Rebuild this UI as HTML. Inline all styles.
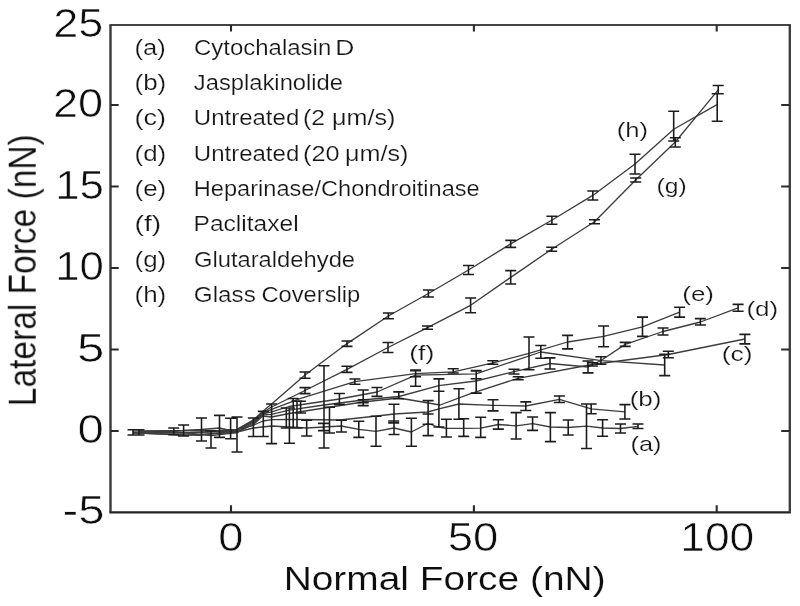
<!DOCTYPE html>
<html lang="en"><head><meta charset="utf-8"><title>Lateral Force vs Normal Force</title>
<style>
html,body{margin:0;padding:0;background:#fff;}
body{width:800px;height:606px;overflow:hidden;font-family:"Liberation Sans",Arial,sans-serif;}
svg{display:block;}
</style></head><body>
<svg width="800" height="606" viewBox="0 0 800 606">
<defs><filter id="bl" x="-2%" y="-2%" width="104%" height="104%"><feGaussianBlur stdDeviation="0.65"/></filter></defs>
<rect width="800" height="606" fill="#fff"/>
<g filter="url(#bl)">
<g fill="none" stroke="#3c3c3c" stroke-width="1.3" stroke-linejoin="round">
<polyline points="133.0,431.2 183.0,430.6 219.5,430.4 237.0,429.3 254.0,419.5 262.5,411.5 271.6,404.0 305.0,375.0 347.0,343.6 388.4,316.0 428.4,293.5 468.5,270.0 510.7,243.9 551.7,220.2 592.8,195.4 635.0,164.0 673.7,129.2 717.0,104.6"/>
<polyline points="139.0,431.2 201.5,430.3 219.5,430.6 237.0,429.8 254.0,420.0 262.5,412.5 271.6,407.0 305.0,390.5 347.0,369.3 388.0,347.5 427.5,327.6 470.6,305.3 510.7,277.4 551.7,249.2 594.5,221.8 635.7,180.0 675.3,142.0 718.2,89.8"/>
<polyline points="133.0,432.8 183.0,433.2 225.0,431.0 237.0,430.4 254.0,420.5 262.5,413.3 271.6,409.4 300.0,398.7 354.9,381.6 415.6,373.7 453.4,371.8 493.0,362.8 529.0,353.4 567.6,342.0 603.6,336.4 642.5,326.8 679.6,312.2"/>
<polyline points="139.0,432.8 190.0,432.5 230.0,431.3 237.0,430.8 254.0,421.5 262.5,414.0 271.6,411.9 289.0,406.5 339.4,399.0 377.0,392.0 415.6,375.2 476.0,373.8 540.8,352.0 601.2,360.6 664.7,365.0"/>
<polyline points="139.0,431.6 174.0,431.4 211.0,435.6 237.0,432.5 254.0,422.5 262.5,415.0 271.6,414.4 289.0,410.2 324.0,405.0 363.0,400.0 399.0,396.5 438.8,385.6 476.0,381.0 514.0,371.6 550.0,363.5 588.0,367.0 601.0,360.5 625.2,344.4 663.0,331.5 700.4,322.0 738.1,307.8"/>
<polyline points="133.0,432.8 183.5,435.2 237.0,432.5 254.0,424.0 262.5,416.2 271.6,417.0 289.0,413.5 363.0,402.0 399.0,398.0 440.0,405.0 470.0,393.8 518.0,378.3 592.0,364.5 668.3,354.5 744.9,339.0"/>
<polyline points="133.0,432.8 170.0,434.3 199.0,435.4 231.0,431.5 254.0,425.0 263.0,421.0 272.0,419.6 297.0,419.5 340.0,420.0 377.0,416.0 394.0,414.0 427.6,412.0 440.0,408.7 458.9,404.0 493.0,405.3 525.8,406.0 559.4,399.4 591.2,408.9 624.9,411.8"/>
<polyline points="183.8,430.5 201.5,429.5 219.5,428.0 237.0,432.0 253.4,428.0 271.6,426.0 289.7,427.0 306.7,428.0 324.0,427.0 341.4,426.0 358.8,429.3 376.0,431.3 394.0,428.0 411.4,432.0 427.6,423.5 438.5,427.0 446.4,428.4 463.7,428.4 480.7,428.2 498.3,424.5 516.1,425.8 532.6,423.7 550.4,427.0 568.2,427.5 586.5,426.2 602.6,428.0 620.5,428.5 638.0,426.3"/>
</g>
<path d="M133.0 429.8V435.0M127.5 429.8H138.5M127.5 435.0H138.5M139.0 429.8V435.0M133.5 429.8H144.5M133.5 435.0H144.5M173.8 428.0V434.8M168.2 428.0H179.2M168.2 434.8H179.2M183.6 425.0V436.0M178.1 425.0H189.1M178.1 436.0H189.1M201.5 418.0V441.0M196.0 418.0H207.0M196.0 441.0H207.0M211.0 431.0V448.0M205.5 431.0H216.5M205.5 448.0H216.5M219.5 415.4V437.4M214.0 415.4H225.0M214.0 437.4H225.0M230.6 418.3V438.7M225.1 418.3H236.1M225.1 438.7H236.1M237.0 417.0V452.0M231.5 417.0H242.5M231.5 452.0H242.5M253.4 418.0V436.5M247.9 418.0H258.9M247.9 436.5H258.9M263.3 411.4V436.5M257.8 411.4H268.8M257.8 436.5H268.8M271.6 404.0V443.6M266.1 404.0H277.1M266.1 443.6H277.1M289.4 408.0V443.2M283.9 408.0H294.9M283.9 443.2H294.9M286.3 408.0V428.0M280.8 408.0H291.8M280.8 428.0H291.8M293.2 398.5V428.0M287.7 398.5H298.7M287.7 428.0H298.7M297.0 401.0V428.0M291.5 401.0H302.5M291.5 428.0H302.5M300.6 401.2V413.0M295.1 401.2H306.1M295.1 413.0H306.1M306.7 420.2V436.0M301.2 420.2H312.2M301.2 436.0H312.2M324.0 365.7V448.0M318.5 365.7H329.5M318.5 448.0H329.5M329.5 407.3V433.0M324.0 407.3H335.0M324.0 433.0H335.0M341.4 420.2V432.0M335.9 420.2H346.9M335.9 432.0H346.9M358.8 421.2V437.4M353.3 421.2H364.3M353.3 437.4H364.3M376.0 416.2V446.3M370.5 416.2H381.5M370.5 446.3H381.5M394.0 404.2V434.5M388.5 404.2H399.5M388.5 434.5H399.5M411.4 418.2V446.3M405.9 418.2H416.9M405.9 446.3H416.9M428.1 400.6V435.6M422.6 400.6H433.6M422.6 435.6H433.6M428.1 414.0V424.3M422.6 414.0H433.6M422.6 424.3H433.6M438.9 378.8V427.0M433.4 378.8H444.4M433.4 427.0H444.4M438.9 379.0V391.3M433.4 379.0H444.4M433.4 391.3H444.4M446.4 419.2V437.0M440.9 419.2H451.9M440.9 437.0H451.9M463.7 418.8V436.4M458.2 418.8H469.2M458.2 436.4H469.2M480.7 417.2V437.4M475.2 417.2H486.2M475.2 437.4H486.2M498.3 419.8V429.1M492.8 419.8H503.8M492.8 429.1H503.8M516.1 412.6V439.0M510.6 412.6H521.6M510.6 439.0H521.6M532.6 417.0V430.4M527.1 417.0H538.1M527.1 430.4H538.1M550.4 412.6V441.6M544.9 412.6H555.9M544.9 441.6H555.9M568.2 420.0V435.0M562.7 420.0H573.7M562.7 435.0H573.7M586.5 404.0V448.5M581.0 404.0H592.0M581.0 448.5H592.0M602.6 419.7V436.2M597.1 419.7H608.1M597.1 436.2H608.1M620.5 424.0V433.0M615.0 424.0H626.0M615.0 433.0H626.0M638.0 424.0V428.5M632.5 424.0H643.5M632.5 428.5H643.5M458.9 388.7V419.2M453.4 388.7H464.4M453.4 419.2H464.4M493.0 399.8V410.9M487.5 399.8H498.5M487.5 410.9H498.5M525.8 401.9V410.5M520.3 401.9H531.3M520.3 410.5H531.3M559.4 396.0V402.5M553.9 396.0H564.9M553.9 402.5H564.9M591.2 404.0V413.7M585.7 404.0H596.7M585.7 413.7H596.7M624.9 404.6V419.0M619.4 404.6H630.4M619.4 419.0H630.4M339.4 393.5V404.4M333.9 393.5H344.9M333.9 404.4H344.9M363.2 390.0V405.6M357.7 390.0H368.7M357.7 405.6H368.7M363.2 399.8V402.6M357.7 399.8H368.7M357.7 402.6H368.7M393.8 421.0V422.9M388.2 421.0H399.2M388.2 422.9H399.2M323.5 423.4V430.6M318.0 423.4H329.0M318.0 430.6H329.0M377.0 387.5V396.4M371.5 387.5H382.5M371.5 396.4H382.5M398.8 391.9V398.8M393.2 391.9H404.2M393.2 398.8H404.2M354.9 379.0V384.2M349.4 379.0H360.4M349.4 384.2H360.4M415.6 370.0V386.2M410.1 370.0H421.1M410.1 386.2H421.1M415.6 370.8V376.8M410.1 370.8H421.1M410.1 376.8H421.1M453.2 368.8V373.0M447.7 368.8H458.7M447.7 373.0H458.7M476.2 370.6V393.1M470.7 370.6H481.7M470.7 393.1H481.7M476.2 371.0V378.7M470.7 371.0H481.7M470.7 378.7H481.7M492.8 360.8V364.2M487.3 360.8H498.3M487.3 364.2H498.3M514.0 369.3V374.0M508.5 369.3H519.5M508.5 374.0H519.5M518.2 376.8V379.8M512.7 376.8H523.7M512.7 379.8H523.7M529.0 337.0V369.7M523.5 337.0H534.5M523.5 369.7H534.5M540.8 345.5V358.3M535.3 345.5H546.3M535.3 358.3H546.3M550.0 357.9V369.0M544.5 357.9H555.5M544.5 369.0H555.5M567.6 335.4V348.9M562.1 335.4H573.1M562.1 348.9H573.1M588.0 361.0V372.9M582.5 361.0H593.5M582.5 372.9H593.5M592.3 362.8V366.0M586.8 362.8H597.8M586.8 366.0H597.8M600.9 356.8V364.3M595.4 356.8H606.4M595.4 364.3H606.4M603.6 326.0V346.8M598.1 326.0H609.1M598.1 346.8H609.1M625.2 342.4V346.4M619.7 342.4H630.7M619.7 346.4H630.7M642.5 317.1V336.4M637.0 317.1H648.0M637.0 336.4H648.0M679.6 307.3V317.1M674.1 307.3H685.1M674.1 317.1H685.1M663.0 328.0V335.0M657.5 328.0H668.5M657.5 335.0H668.5M700.4 318.6V325.0M694.9 318.6H705.9M694.9 325.0H705.9M738.1 304.4V311.2M732.6 304.4H743.6M732.6 311.2H743.6M668.3 351.3V357.8M662.8 351.3H673.8M662.8 357.8H673.8M744.9 334.4V343.9M739.4 334.4H750.4M739.4 343.9H750.4M664.7 354.3V375.6M659.2 354.3H670.2M659.2 375.6H670.2M305.0 372.0V378.2M299.5 372.0H310.5M299.5 378.2H310.5M347.0 341.0V346.4M341.5 341.0H352.5M341.5 346.4H352.5M388.4 313.0V318.8M382.9 313.0H393.9M382.9 318.8H393.9M428.4 290.0V297.0M422.9 290.0H433.9M422.9 297.0H433.9M468.5 265.5V274.5M463.0 265.5H474.0M463.0 274.5H474.0M510.7 240.4V247.4M505.2 240.4H516.2M505.2 247.4H516.2M551.9 216.3V224.3M546.4 216.3H557.4M546.4 224.3H557.4M592.8 191.0V200.0M587.3 191.0H598.3M587.3 200.0H598.3M635.0 154.2V174.0M629.5 154.2H640.5M629.5 174.0H640.5M673.7 111.3V141.0M668.2 111.3H679.2M668.2 141.0H679.2M717.2 93.8V121.2M711.7 93.8H722.7M711.7 121.2H722.7M305.0 387.6V393.6M299.5 387.6H310.5M299.5 393.6H310.5M347.0 366.2V372.4M341.5 366.2H352.5M341.5 372.4H352.5M388.0 342.5V352.5M382.5 342.5H393.5M382.5 352.5H393.5M427.5 326.0V329.2M422.0 326.0H433.0M422.0 329.2H433.0M470.6 298.0V312.8M465.1 298.0H476.1M465.1 312.8H476.1M510.7 270.6V284.0M505.2 270.6H516.2M505.2 284.0H516.2M551.7 247.2V251.2M546.2 247.2H557.2M546.2 251.2H557.2M594.5 219.8V223.8M589.0 219.8H600.0M589.0 223.8H600.0M635.7 178.0V182.0M630.2 178.0H641.2M630.2 182.0H641.2M675.3 137.7V147.0M669.8 137.7H680.8M669.8 147.0H680.8M718.2 85.5V93.8M712.7 85.5H723.7M712.7 93.8H723.7" fill="none" stroke="#1e1e1e" stroke-width="1.6"/>
<path d="M109.4 25.0H790.9" stroke="#454545" stroke-width="1.9" fill="none"/>
<path d="M109.4 512.3H790.9" stroke="#222" stroke-width="2.3" fill="none"/>
<path d="M110.5 25.0V512.3" stroke="#383838" stroke-width="2.4" fill="none"/>
<path d="M789.8 25.0V512.3" stroke="#383838" stroke-width="2.3" fill="none"/>
<path d="M231.0 512.3V505.29999999999995M231.0 25.0V31.5M473.9 512.3V505.29999999999995M473.9 25.0V31.5M716.7 512.3V505.29999999999995M716.7 25.0V31.5" fill="none" stroke="#2c2c2c" stroke-width="2.1"/>
<path d="M110.5 105.0H118.7M789.8 105.0H781.1999999999999M110.5 186.5H118.7M789.8 186.5H781.1999999999999M110.5 268.0H118.7M789.8 268.0H781.1999999999999M110.5 349.5H118.7M789.8 349.5H781.1999999999999M110.5 431.0H118.7M789.8 431.0H781.1999999999999" fill="none" stroke="#2c2c2c" stroke-width="1.8"/>
</g>
<g font-family="Liberation Sans, Arial, Helvetica, sans-serif" filter="url(#bl)" stroke="#fff" stroke-linejoin="round">
<text x="53.20" y="37.0" font-size="41.2" textLength="50.09" lengthAdjust="spacingAndGlyphs" fill="#111" stroke-width="0.6">25</text>
<text x="53.00" y="117.0" font-size="41.2" textLength="50.15" lengthAdjust="spacingAndGlyphs" fill="#111" stroke-width="0.6">20</text>
<text x="55.18" y="198.5" font-size="41.2" textLength="48.82" lengthAdjust="spacingAndGlyphs" fill="#111" stroke-width="0.6">15</text>
<text x="55.19" y="280.0" font-size="41.2" textLength="48.71" lengthAdjust="spacingAndGlyphs" fill="#111" stroke-width="0.6">10</text>
<text x="76.92" y="361.5" font-size="41.2" textLength="27.30" lengthAdjust="spacingAndGlyphs" fill="#111" stroke-width="0.6">5</text>
<text x="77.40" y="443.0" font-size="41.2" textLength="26.31" lengthAdjust="spacingAndGlyphs" fill="#111" stroke-width="0.6">0</text>
<text x="62.51" y="524.3" font-size="41.2" textLength="41.88" lengthAdjust="spacingAndGlyphs" fill="#111" stroke-width="0.6">-5</text>
<text x="218.39" y="550.6" font-size="41.2" textLength="25.15" lengthAdjust="spacingAndGlyphs" fill="#111" stroke-width="0.6">0</text>
<text x="447.72" y="550.6" font-size="41.2" textLength="50.60" lengthAdjust="spacingAndGlyphs" fill="#111" stroke-width="0.6">50</text>
<text x="680.28" y="550.6" font-size="41.2" textLength="74.01" lengthAdjust="spacingAndGlyphs" fill="#111" stroke-width="0.6">100</text>
<text x="283.65" y="590.3" font-size="33.5" textLength="321.97" lengthAdjust="spacingAndGlyphs" fill="#111" stroke-width="0.15">Normal Force (nN)</text>
<text x="134.61" y="54.7" font-size="22.3" textLength="31.27" lengthAdjust="spacingAndGlyphs" fill="#161616" stroke-width="0.2">(a)</text>
<text y="54.7" font-size="22.3" fill="#161616" stroke-width="0.2"><tspan x="193.93" textLength="137.31" lengthAdjust="spacingAndGlyphs">Cytochalasin</tspan> <tspan x="335.30" textLength="19.11" lengthAdjust="spacingAndGlyphs">D</tspan></text>
<text x="134.55" y="90.0" font-size="22.3" textLength="31.71" lengthAdjust="spacingAndGlyphs" fill="#161616" stroke-width="0.2">(b)</text>
<text x="193.85" y="90.0" font-size="22.3" textLength="149.21" lengthAdjust="spacingAndGlyphs" fill="#161616" stroke-width="0.2">Jasplakinolide</text>
<text x="134.51" y="125.4" font-size="22.3" textLength="31.49" lengthAdjust="spacingAndGlyphs" fill="#161616" stroke-width="0.2">(c)</text>
<text y="125.4" font-size="22.3" fill="#161616" stroke-width="0.2"><tspan x="193.81" textLength="105.45" lengthAdjust="spacingAndGlyphs">Untreated</tspan> <tspan x="302.99" textLength="22.02" lengthAdjust="spacingAndGlyphs">(2</tspan> <tspan x="331.99" textLength="63.53" lengthAdjust="spacingAndGlyphs">μm/s)</tspan></text>
<text x="134.55" y="160.7" font-size="22.3" textLength="31.71" lengthAdjust="spacingAndGlyphs" fill="#161616" stroke-width="0.2">(d)</text>
<text y="160.7" font-size="22.3" fill="#161616" stroke-width="0.2"><tspan x="193.81" textLength="105.45" lengthAdjust="spacingAndGlyphs">Untreated</tspan> <tspan x="303.13" textLength="36.57" lengthAdjust="spacingAndGlyphs">(20</tspan> <tspan x="344.99" textLength="63.53" lengthAdjust="spacingAndGlyphs">μm/s)</tspan></text>
<text x="134.55" y="196.0" font-size="22.3" textLength="31.71" lengthAdjust="spacingAndGlyphs" fill="#161616" stroke-width="0.2">(e)</text>
<text x="193.77" y="196.0" font-size="22.3" textLength="285.96" lengthAdjust="spacingAndGlyphs" fill="#161616" stroke-width="0.2">Heparinase/Chondroitinase</text>
<text x="134.50" y="231.3" font-size="22.3" textLength="26.69" lengthAdjust="spacingAndGlyphs" fill="#161616" stroke-width="0.2">(f)</text>
<text x="193.54" y="231.3" font-size="22.3" textLength="105.10" lengthAdjust="spacingAndGlyphs" fill="#161616" stroke-width="0.2">Paclitaxel</text>
<text x="134.55" y="266.7" font-size="22.3" textLength="31.71" lengthAdjust="spacingAndGlyphs" fill="#161616" stroke-width="0.2">(g)</text>
<text x="193.91" y="266.7" font-size="22.3" textLength="161.18" lengthAdjust="spacingAndGlyphs" fill="#161616" stroke-width="0.2">Glutaraldehyde</text>
<text x="134.55" y="302.0" font-size="22.3" textLength="31.71" lengthAdjust="spacingAndGlyphs" fill="#161616" stroke-width="0.2">(h)</text>
<text y="302.0" font-size="22.3" fill="#161616" stroke-width="0.2"><tspan x="193.84" textLength="61.98" lengthAdjust="spacingAndGlyphs">Glass</tspan> <tspan x="261.46" textLength="98.82" lengthAdjust="spacingAndGlyphs">Coverslip</tspan></text>
<text x="630.56" y="450.6" font-size="20.9" textLength="31.02" lengthAdjust="spacingAndGlyphs" fill="#161616" stroke-width="0.2">(a)</text>
<text x="629.70" y="405.7" font-size="20.9" textLength="31.89" lengthAdjust="spacingAndGlyphs" fill="#161616" stroke-width="0.2">(b)</text>
<text x="721.66" y="361.2" font-size="20.9" textLength="30.90" lengthAdjust="spacingAndGlyphs" fill="#161616" stroke-width="0.2">(c)</text>
<text x="746.40" y="316.3" font-size="20.9" textLength="31.80" lengthAdjust="spacingAndGlyphs" fill="#161616" stroke-width="0.2">(d)</text>
<text x="682.24" y="300.7" font-size="20.9" textLength="31.74" lengthAdjust="spacingAndGlyphs" fill="#161616" stroke-width="0.2">(e)</text>
<text x="409.20" y="360.4" font-size="20.9" textLength="25.11" lengthAdjust="spacingAndGlyphs" fill="#161616" stroke-width="0.2">(f)</text>
<text x="656.50" y="192.7" font-size="20.9" textLength="30.23" lengthAdjust="spacingAndGlyphs" fill="#161616" stroke-width="0.2">(g)</text>
<text x="616.74" y="136.5" font-size="20.9" textLength="31.40" lengthAdjust="spacingAndGlyphs" fill="#161616" stroke-width="0.2">(h)</text>
<text transform="translate(35.7,406.2) scale(1.15,1) rotate(-90)" font-size="33.5" fill="#111" stroke-width="0.15" textLength="272.0" lengthAdjust="spacingAndGlyphs">Lateral Force (nN)</text>
</g>
</svg>
</body></html>
